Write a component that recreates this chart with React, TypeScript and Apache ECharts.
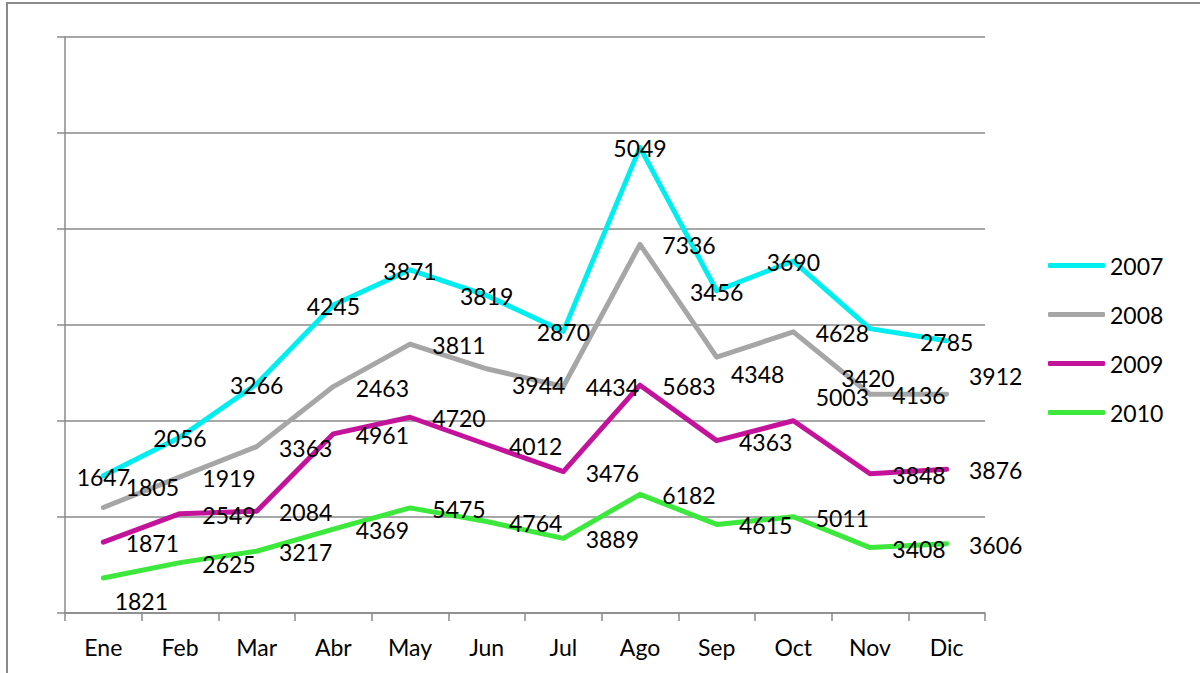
import React, { useEffect, useRef } from "react";
import * as echarts from "echarts";

// ---- data ----
const months = ["Ene", "Feb", "Mar", "Abr", "May", "Jun", "Jul", "Ago", "Sep", "Oct", "Nov", "Dic"];
const years = ["2007", "2008", "2009", "2010"];
const v2007 = [1647, 2056, 3266, 4245, 3871, 3819, 2870, 5049, 3456, 3690, 3420, 2785];
const v2008 = [1805, 1919, 3363, 2463, 3811, 3944, 4434, 7336, 4348, 4628, 4136, 3912];
const v2009 = [1871, 2549, 2084, 4961, 4720, 4012, 3476, 5683, 4363, 5003, 3848, 3876];
const v2010 = [1821, 2625, 3217, 4369, 5475, 4764, 3889, 6182, 4615, 5011, 3408, 3606];
const yMin = 0;
const yMax = 30000;
const yStep = 5000;

// ---- styles ----
const seriesColors: Record<string, string> = {
  "2007": "#00EEF0",
  "2008": "#A6A6A6",
  "2009": "#C4139B",
  "2010": "#3DE83D",
};
// default label placement (offset from the point, px) per series
const labelDefault: Record<string, [number, number]> = {
  "2007": [0, 1],
  "2008": [49, 1],
  "2009": [49, 1],
  "2010": [49, 1],
};
// individual label nudges (as placed in the original)
const labelNudges: { year: string; month: string; offset: [number, number] }[] = [
  { year: "2007", month: "Nov", offset: [-2, 49] },
  { year: "2008", month: "Ene", offset: [49, -20] },
  { year: "2008", month: "Jun", offset: [52, 16] },
  { year: "2008", month: "Sep", offset: [41, 17] },
  { year: "2008", month: "Dic", offset: [49, -18] },
  { year: "2009", month: "Oct", offset: [49, -24] },
  { year: "2010", month: "Ene", offset: [38, 23] },
];

const valuesByYear: Record<string, number[]> = {
  "2007": v2007,
  "2008": v2008,
  "2009": v2009,
  "2010": v2010,
};

const FONT = "Lato";
const FONT_SIZE = 23;
const GRID_COLOR = "#8A8A8A";

export default function App() {
  const ref = useRef<HTMLDivElement>(null);

  useEffect(() => {
    if (!ref.current) return;
    const chart = echarts.init(ref.current, undefined, { renderer: "svg" });

    // stack from the bottom: 2010, 2009, 2008, 2007
    const order = ["2010", "2009", "2008", "2007"];
    const series = order.map((y) => ({
      name: y,
      type: "line",
      stack: "total",
      data: valuesByYear[y].map((v, i) => {
        const nudge = labelNudges.find((n) => n.year === y && n.month === months[i]);
        return {
          value: v,
          label: { offset: nudge ? nudge.offset : labelDefault[y] },
        };
      }),
      symbol: "circle",
      symbolSize: 2,
      showSymbol: true,
      showAllSymbol: true,
      silent: true,
      itemStyle: { color: seriesColors[y] },
      lineStyle: { color: seriesColors[y], width: 5, cap: "round", join: "round" },
      label: {
        show: true,
        position: "inside",
        color: "#000",
        fontFamily: FONT,
        fontSize: FONT_SIZE,
        textBorderWidth: 0,
      },
      emphasis: { disabled: true },
    }));

    chart.setOption({
      animation: false,
      backgroundColor: "#fff",
      grid: { left: 65, right: 215, top: 37, bottom: 60, containLabel: false },
      xAxis: {
        type: "category",
        data: months,
        boundaryGap: true,
        axisLine: { show: true, lineStyle: { color: GRID_COLOR, width: 1.5 } },
        axisTick: { show: true, length: 8, lineStyle: { color: GRID_COLOR, width: 1.5 } },
        axisLabel: { color: "#000", fontFamily: FONT, fontSize: FONT_SIZE, margin: 22 },
      },
      yAxis: {
        type: "value",
        min: yMin,
        max: yMax,
        interval: yStep,
        axisLine: { show: true, lineStyle: { color: GRID_COLOR, width: 1.5 } },
        axisTick: { show: true, length: 8, lineStyle: { color: GRID_COLOR, width: 1.5 } },
        axisLabel: { show: false },
        splitLine: { show: true, lineStyle: { color: GRID_COLOR, width: 1.5 } },
      },
      legend: {
        data: years,
        orient: "vertical",
        left: 1043,
        top: 249,
        itemWidth: 57,
        itemHeight: 5,
        itemGap: 26,
        icon: "roundRect",
        selectedMode: false,
        textStyle: { color: "#000", fontFamily: FONT, fontSize: FONT_SIZE },
      },
      graphic: [
        {
          type: "rect",
          silent: true,
          shape: { x: 7, y: 3, width: 1400, height: 900 },
          style: { fill: "none", stroke: GRID_COLOR, lineWidth: 2 },
        },
      ],
      series,
    });

    return () => {
      chart.dispose();
    };
  }, []);

  return (
    <div
      ref={ref}
      style={{ position: "fixed", left: 0, top: 0, width: 1200, height: 673, background: "#fff" }}
    />
  );
}
